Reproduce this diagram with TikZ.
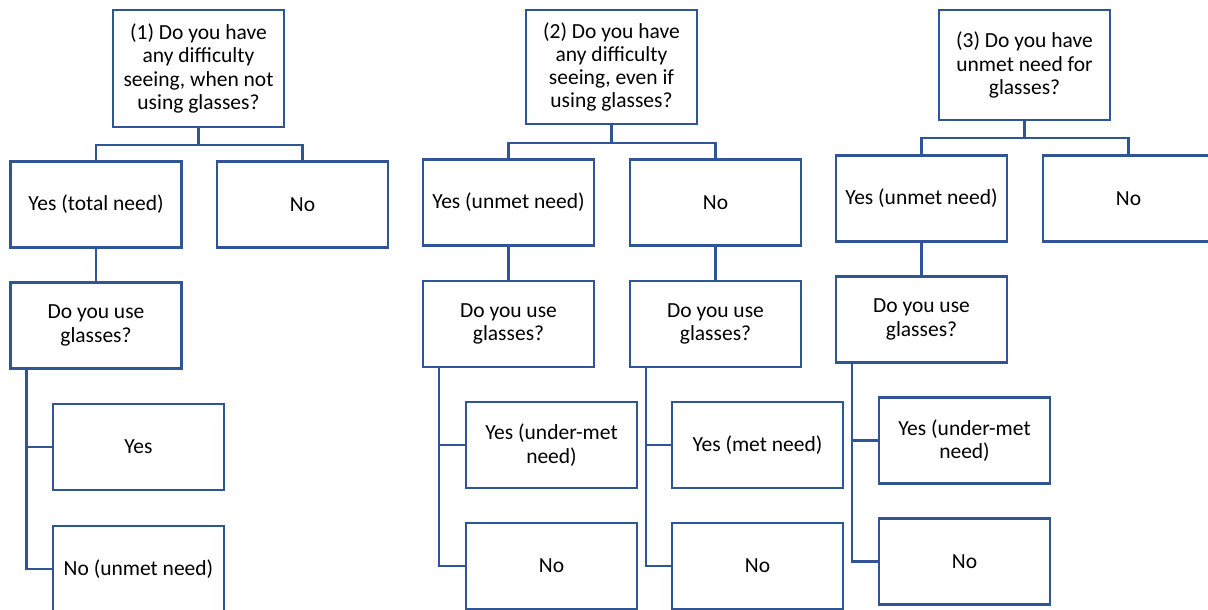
\documentclass[tikz,border=0pt]{standalone}
\usepackage{fontspec}
\setmainfont{Carlito}
\definecolor{boxblue}{HTML}{2F5597}

\begin{document}
\begin{tikzpicture}[x=1pt,y=-1pt,
  qbox/.style={draw=boxblue,line width=2.4pt,minimum width=171pt,minimum height=86pt,
               align=center,inner sep=2pt,font=\fontsize{21.5}{23.3}\selectfont},
  link/.style={draw=boxblue,line width=2.4pt}]

\useasboundingbox (0,0) rectangle (1208,610);

% ---- (1) difficulty without glasses ----
\node[qbox,minimum height=117pt] (q1) at (198.5,68.5)
  {(1) Do you have\\any difficulty\\seeing, when not\\using glasses?};
\node[qbox] (y1) at (96,204.5) {Yes (total need)};
\node[qbox] (n1) at (302.5,204.5) {No};
\node[qbox] (g1) at (96,325.5) {Do you use\\glasses?};
\node[qbox] (yy1) at (138.5,447) {Yes};
\node[qbox] (nn1) at (138.5,569) {No (unmet need)};

% ---- (2) difficulty even with glasses ----
\node[qbox,minimum height=114pt] (q2) at (611.5,67)
  {(2) Do you have\\any difficulty\\seeing, even if\\using glasses?};
\node[qbox] (y2) at (508.5,202.5) {Yes (unmet need)};
\node[qbox] (n2) at (715.5,202.5) {No};
\node[qbox] (g2) at (508.5,324) {Do you use\\glasses?};
\node[qbox] (g2b) at (715.5,324) {Do you use\\glasses?};
\node[qbox] (yy2) at (551.5,445) {Yes (under-met\\need)};
\node[qbox] (nn2) at (551.5,566) {No};
\node[qbox] (yy2b) at (757.5,445) {Yes (met need)};
\node[qbox] (nn2b) at (757.5,566) {No};

% ---- (3) unmet need for glasses ----
\node[qbox,minimum height=110pt] (q3) at (1024.5,65)
  {(3) Do you have\\unmet need for\\glasses?};
\node[qbox] (y3) at (921.5,198.5) {Yes (unmet need)};
\node[qbox] (n3) at (1128.5,198.5) {No};
\node[qbox] (g3) at (921.5,319.5) {Do you use\\glasses?};
\node[qbox] (yy3) at (964.5,440.5) {Yes (under-met\\need)};
\node[qbox] (nn3) at (964.5,561.5) {No};

% ---- forks under the questions ----
\foreach \t/\d in {1/17,2/18,3/17}{
  \draw[link] (q\t.south) -- ++(0,\d) coordinate (b\t) -| (y\t.north);
  \draw[link] (b\t) -| (n\t.north);}

% ---- down to the glasses questions ----
\foreach \a/\b in {y1/g1,y2/g2,n2/g2b,y3/g3}{
  \draw[link] (\a.south) -- (\b.north);}

% ---- side rails to the answers ----
\foreach \g/\a/\b in {g1/yy1/nn1,g2/yy2/nn2,g2b/yy2b/nn2b,g3/yy3/nn3}{
  \draw[link] ([xshift=17pt]\g.south west) coordinate (s\g) |- (\a.west);
  \draw[link] (s\g) |- (\b.west);}

\end{tikzpicture}
\end{document}
